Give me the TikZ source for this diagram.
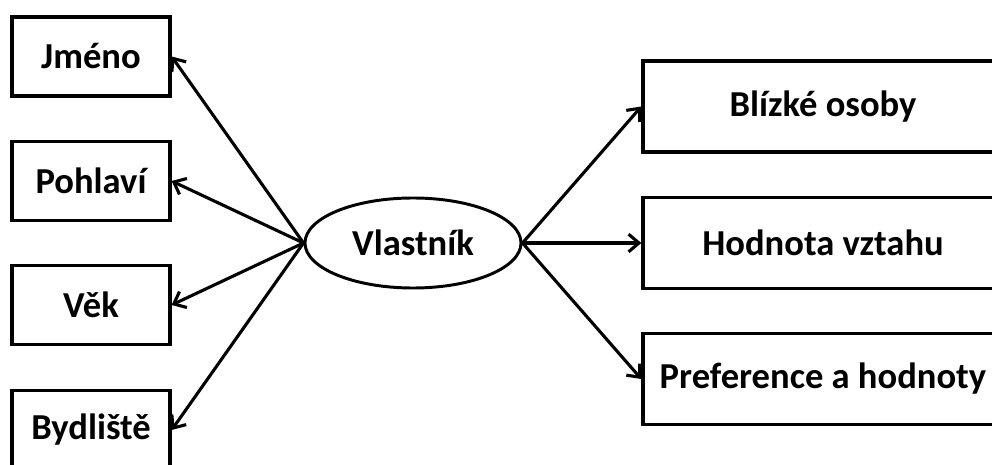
\documentclass[tikz,border=0pt]{standalone}
\usepackage{fontspec}
\setmainfont{Carlito}
\usepackage{tikz}
\usetikzlibrary{shapes.geometric, arrows.meta}

\begin{document}
\begin{tikzpicture}[x = 0.025cm, y = -0.025cm, semithick,
box/.style = { rectangle, draw, line width = 2.3pt, font = \bfseries\fontsize{26}{30}\selectfont, minimum width = 3.95cm, minimum height = 1.975cm, inner sep = 0pt},
bigbox/.style = { box, minimum width = 9cm, minimum height = 2.275cm},
center_node/.style = { ellipse, draw, line width = 2.1pt, font = \bfseries\fontsize{26}{30}\selectfont, minimum width = 5.4cm, minimum height = 2.25cm, inner sep = 0pt},
arc_out/.style = { color = black, line width = 2.2pt, -{Straight Barb[length = 2.6mm, width = 4.4mm, line width = 2.2pt]} }]
\useasboundingbox (0,0) rectangle (992,465);
\clip (0,0) rectangle (992,465);
\node[center_node] (vlastnik) at (413,243) {Vlastník};
\node[box] (jmeno) at (91,56.5) {Jméno};
\node[box] (pohlavi) at (91,181) {Pohlaví};
\node[box] (vek) at (91,305) {Věk};
\node[box] (bydliste) at (91,430) {Bydliště};
\node[bigbox] (blizke) at (823,106.5) {Blízké osoby};
\node[bigbox] (hodnota) at (823,243) {Hodnota vztahu};
\node[bigbox] (preference) at (823,379) {Preference a hodnoty};
\draw[arc_out] (vlastnik.west) -- (jmeno.east);
\draw[arc_out] (vlastnik.west) -- (pohlavi.east);
\draw[arc_out] (vlastnik.west) -- (vek.east);
\draw[arc_out] (vlastnik.west) -- (bydliste.east);
\draw[arc_out] (vlastnik.east) -- (blizke.west);
\draw[arc_out] (vlastnik.east) -- (hodnota.west);
\draw[arc_out] (vlastnik.east) -- (preference.west);
\end{tikzpicture}
\end{document}
